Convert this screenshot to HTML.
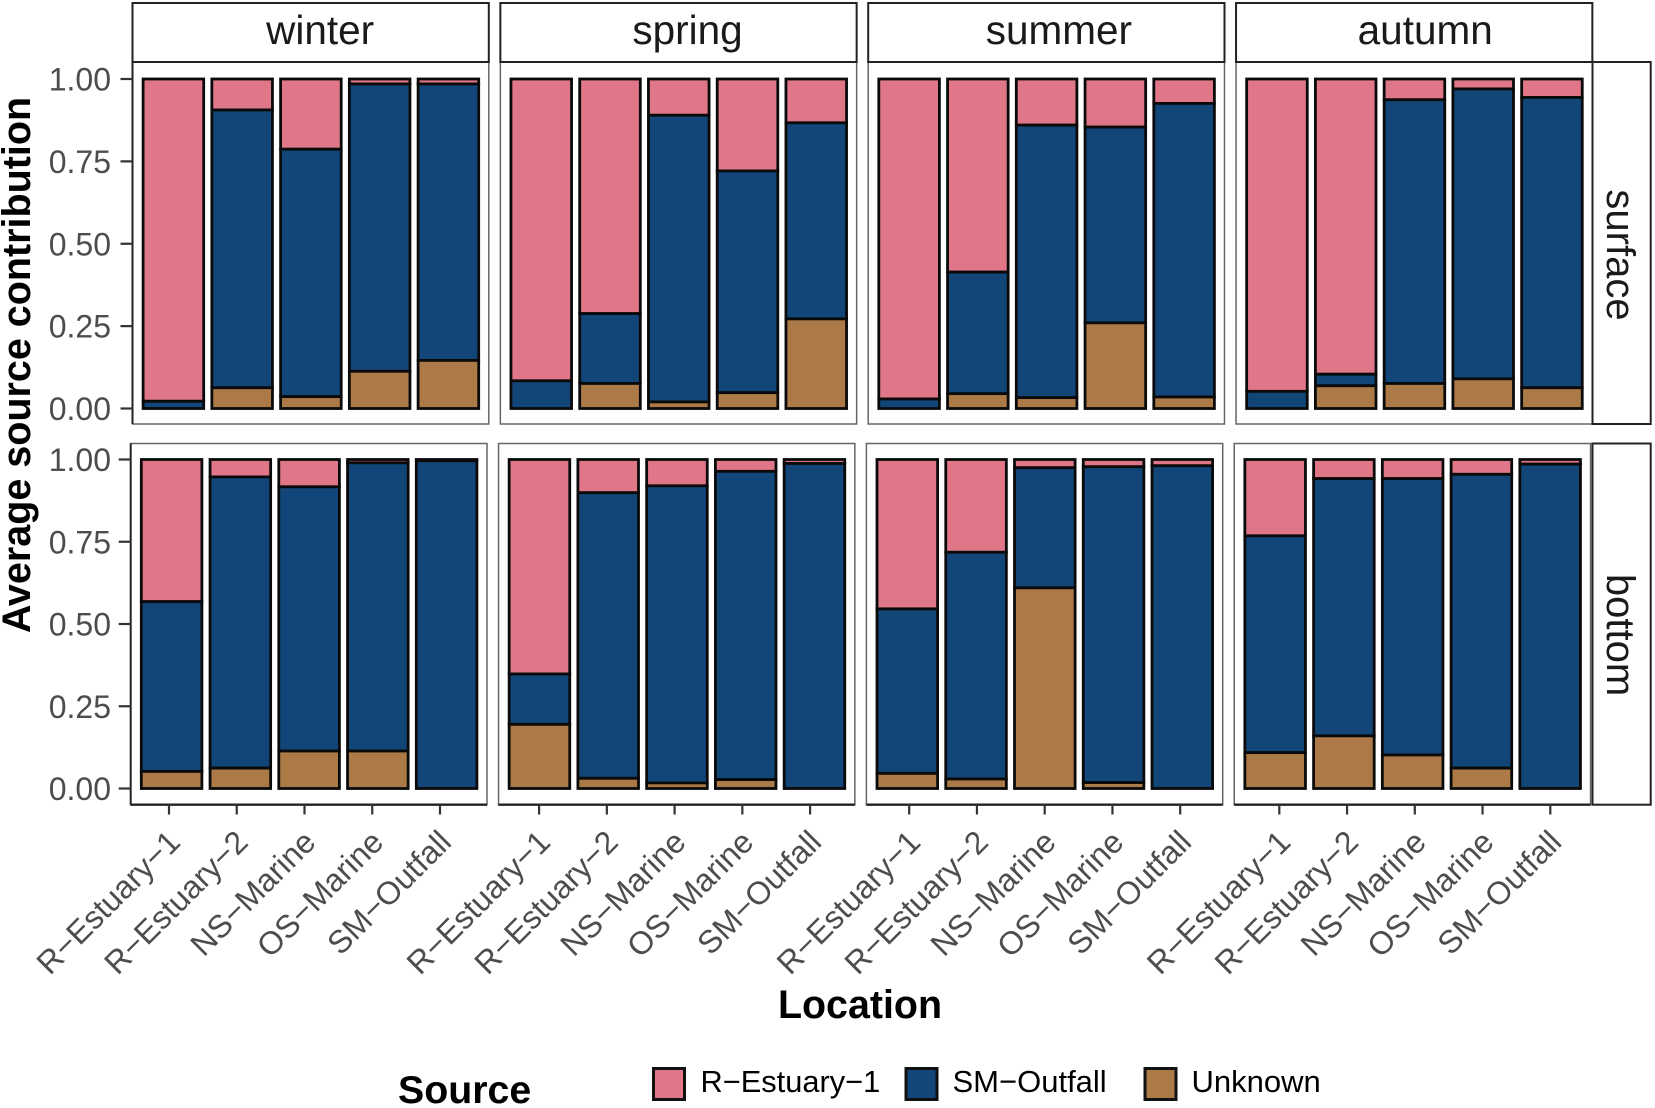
<!DOCTYPE html>
<html lang="en">
<head>
<meta charset="utf-8">
<title>Average source contribution by location, season and depth</title>
<style>
html,body{margin:0;padding:0;background:#fff;}
svg{display:block;font-family:"Liberation Sans",Arial,sans-serif;}
</style>
</head>
<body>
<svg id="chart" xmlns="http://www.w3.org/2000/svg" width="1655" height="1108" viewBox="0 0 1655 1108">
  <rect x="0" y="0" width="1655" height="1108" fill="#ffffff"/>
  <g id="panels"></g>
  <g id="strips"></g>
  <g id="bars"></g>
  <g id="axes"></g>
  <text transform="translate(30,365) rotate(-90)" text-anchor="middle" font-size="39.5" font-weight="bold" fill="#000">Average source contribution</text>
  <text x="860" y="1018" text-anchor="middle" font-size="39.4" font-weight="bold" fill="#000">Location</text>
  <g>
    <text x="398" y="1103" font-size="39.3" font-weight="bold" fill="#000">Source</text>
    <rect x="653.5" y="1068.5" width="31" height="31" fill="#df7789" stroke="#111" stroke-width="3"/>
    <text x="700.5" y="1092" font-size="30.8" fill="#000">R−Estuary−1</text>
    <rect x="906" y="1068.5" width="31" height="31" fill="#124578" stroke="#111" stroke-width="3"/>
    <text x="952.5" y="1092" font-size="31" fill="#000">SM−Outfall</text>
    <rect x="1145" y="1068.5" width="31" height="31" fill="#ab7a46" stroke="#111" stroke-width="3"/>
    <text x="1191.5" y="1092" font-size="31" fill="#000">Unknown</text>
  </g>
</svg>
<script>
// Data: one row per season (winter, spring, summer, autumn), one column per location.
const seasons = ['winter', 'spring', 'summer', 'autumn'];
const depths = ['surface', 'bottom'];
const locations = ['R−Estuary−1', 'R−Estuary−2', 'NS−Marine', 'OS−Marine', 'SM−Outfall'];
const yTickValues = [0, 0.25, 0.5, 0.75, 1];
const yTickLabels = ['0.00', '0.25', '0.50', '0.75', '1.00'];

const surfaceUnknown = [
  [0.000, 0.063, 0.036, 0.113, 0.146],
  [0.000, 0.076, 0.020, 0.048, 0.272],
  [0.000, 0.045, 0.033, 0.260, 0.035],
  [0.000, 0.069, 0.076, 0.090, 0.063]
];
const surfaceOutfall = [
  [0.022, 0.843, 0.751, 0.872, 0.839],
  [0.084, 0.212, 0.870, 0.673, 0.595],
  [0.029, 0.369, 0.827, 0.594, 0.891],
  [0.052, 0.035, 0.861, 0.880, 0.881]
];
const surfaceEstuary = [
  [0.978, 0.094, 0.213, 0.015, 0.015],
  [0.916, 0.712, 0.110, 0.279, 0.133],
  [0.971, 0.586, 0.140, 0.146, 0.074],
  [0.948, 0.896, 0.063, 0.030, 0.056]
];
const bottomUnknown = [
  [0.052, 0.062, 0.114, 0.114, 0.000],
  [0.195, 0.031, 0.017, 0.027, 0.000],
  [0.046, 0.029, 0.610, 0.018, 0.000],
  [0.109, 0.160, 0.102, 0.062, 0.000]
];
const bottomOutfall = [
  [0.516, 0.885, 0.803, 0.876, 0.996],
  [0.153, 0.868, 0.903, 0.937, 0.988],
  [0.500, 0.689, 0.365, 0.960, 0.981],
  [0.659, 0.782, 0.840, 0.893, 0.986]
];
const bottomEstuary = [
  [0.432, 0.053, 0.083, 0.010, 0.004],
  [0.652, 0.101, 0.080, 0.036, 0.012],
  [0.454, 0.282, 0.025, 0.022, 0.019],
  [0.232, 0.058, 0.058, 0.045, 0.014]
];

const SVG_NS = 'http://www.w3.org/2000/svg';
const panelLayer = document.getElementById('panels');
const stripLayer = document.getElementById('strips');
const barLayer = document.getElementById('bars');
const axisLayer = document.getElementById('axes');

const rowGeom = [
  {left: 132.5, top: 62, bottom: 424, y1: 79, y0: 408.5},
  {left: 130.7, top: 443.5, bottom: 804.7, y1: 459.5, y0: 788.5}
];
const PANEL_STEP = 367.85;
const PANEL_W = 356.3;
const BAR_INSET = 10.6;
const BAR_STEP = 68.75;
const BAR_W = 60.6;
const TICK_START = 169;
const TICK_FACET_STEP = 370.1;
const TICK_STEP = 67.75;
const COLORS = {estuary: '#df7789', outfall: '#124578', unknown: '#ab7a46'};

function panelX(row, s) { return rowGeom[row].left + PANEL_STEP * s; }
function barX(row, s, i) { return panelX(row, s) + BAR_INSET + BAR_STEP * i; }
function yScale(row, v) { const g = rowGeom[row]; return g.y0 + (g.y1 - g.y0) * v; }
function tickX(s, i) { return TICK_START + TICK_FACET_STEP * s + TICK_STEP * i; }

function make(tag, attrs, parent) {
  const el = document.createElementNS(SVG_NS, tag);
  for (const k in attrs) el.setAttribute(k, attrs[k]);
  parent.appendChild(el);
  return el;
}

const unknownByRow = [surfaceUnknown, bottomUnknown];
const outfallByRow = [surfaceOutfall, bottomOutfall];
const estuaryByRow = [surfaceEstuary, bottomEstuary];

function drawSegment(row, s, i, from, to, color, name) {
  const yTop = yScale(row, to);
  const yBottom = yScale(row, from);
  const r = make('rect', {x: barX(row, s, i), y: yTop, width: BAR_W, height: Math.max(0, yBottom - yTop), fill: color, stroke: '#0a0a0a', 'stroke-width': 2.8}, barLayer);
  
  
}

depths.forEach(function (depth, row) {
  const g = rowGeom[row];
  seasons.forEach(function (season, s) {
    const px = panelX(row, s);
    const panel = make('rect', {x: px, y: g.top, width: PANEL_W, height: g.bottom - g.top, fill: '#fff', stroke: '#666', 'stroke-width': 1.5}, panelLayer);
    
    

    locations.forEach(function (loc, i) {
      const u = unknownByRow[row][s][i];
      const o = outfallByRow[row][s][i];
      const e = estuaryByRow[row][s][i];
      drawSegment(row, s, i, u + o, u + o + e, COLORS.estuary, 'bar-estuary-' + season + '-' + depth + '-' + i);
      drawSegment(row, s, i, u, u + o, COLORS.outfall, 'bar-outfall-' + season + '-' + depth + '-' + i);
      if (u > 0) {
        drawSegment(row, s, i, 0, u, COLORS.unknown, 'bar-unknown-' + season + '-' + depth + '-' + i);
      }
    });
  });

  // y axis line and ticks
  const yLine = make('line', {x1: g.left, x2: g.left, y1: g.top, y2: g.bottom, stroke: '#222', 'stroke-width': 2}, axisLayer);
  
  
  yTickValues.forEach(function (v, k) {
    const y = yScale(row, v);
    const tick = make('line', {x1: g.left - 12, x2: g.left, y1: y, y2: y, stroke: '#333', 'stroke-width': 2.2}, axisLayer);
    
    
    const label = make('text', {x: 111, y: y + 11.5, 'text-anchor': 'end', 'font-size': 32, fill: '#4d4d4d'}, axisLayer);
    label.textContent = yTickLabels[k];
    
    
  });

  // right-hand depth strip
  const strip = make('rect', {x: 1592.5, y: g.top, width: 58.2, height: g.bottom - g.top, fill: '#fff', stroke: '#222', 'stroke-width': 2}, stripLayer);
  
  
  const cy = depth === 'surface' ? 255 : 635;
  const stripText = make('text', {transform: 'translate(1607,' + cy + ') rotate(90)', 'text-anchor': 'middle', 'font-size': 40, fill: '#1a1a1a'}, stripLayer);
  stripText.textContent = depth;
  
  
});

// season strips, bottom axis, x ticks and labels
const stripTextOffset = [9.5, 9, 12.5, 11];
seasons.forEach(function (season, s) {
  const sx = panelX(0, s);
  const strip = make('rect', {x: sx, y: 3, width: PANEL_W, height: 59, fill: '#fff', stroke: '#222', 'stroke-width': 2}, stripLayer);
  
  
  const t = make('text', {x: sx + PANEL_W / 2 + stripTextOffset[s], y: 44, 'text-anchor': 'middle', 'font-size': 40.5, fill: '#1a1a1a'}, stripLayer);
  t.textContent = season;
  
  

  const bx = panelX(1, s);
  const axisLine = make('line', {x1: bx, x2: bx + PANEL_W, y1: 804.7, y2: 804.7, stroke: '#222', 'stroke-width': 2.4}, axisLayer);
  
  

  locations.forEach(function (loc, i) {
    const x = tickX(s, i);
    const tick = make('line', {x1: x, x2: x, y1: 804.7, y2: 814.5, stroke: '#333', 'stroke-width': 2.2}, axisLayer);
    
    
    const label = make('text', {transform: 'translate(' + (x + 13) + ',844) rotate(-45)', 'text-anchor': 'end', 'font-size': 32, fill: '#4d4d4d'}, axisLayer);
    label.textContent = loc;
    
    
  });
});
</script>
</body>
</html>
